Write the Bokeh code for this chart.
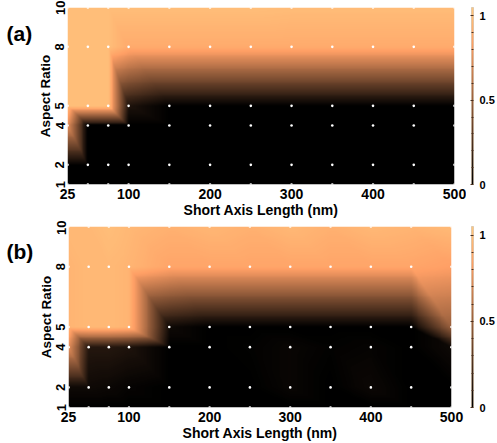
import numpy as np
from bokeh.plotting import figure
from bokeh.models import LinearColorMapper, FixedTicker
from bokeh.layouts import column, row
from bokeh.embed import file_html
from bokeh.resources import INLINE

# ---- data -------------------------------------------------------------
short_axis = [25, 50, 75, 100, 150, 200, 250, 300, 350, 400, 450, 500]
aspect = [1, 2, 4, 5, 8, 10]
x_ticks = [25, 100, 200, 300, 400, 500]
y_ticks = [1, 2, 4, 5, 8, 10]
cbar_ticks = [0, 0.5, 1]
cbar_minor = [0.1, 0.2, 0.3, 0.4, 0.6, 0.7, 0.8, 0.9]
tags = ["(a)", "(b)"]

# panel (a): rows are aspect ratio 1, 2, 4, 5, 8, 10
za = [
    [0.00, 0.00, 0.00, 0.00, 0.00, 0.00, 0.00, 0.00, 0.00, 0.00, 0.00, 0.00],
    [0.00, 0.00, 0.00, 0.00, 0.00, 0.00, 0.00, 0.00, 0.00, 0.00, 0.00, 0.00],
    [0.75, 0.00, 0.00, 0.00, 0.00, 0.00, 0.00, 0.00, 0.00, 0.00, 0.00, 0.00],
    [1.00, 1.00, 1.00, 0.10, 0.00, 0.00, 0.00, 0.00, 0.00, 0.00, 0.00, 0.00],
    [1.00, 1.00, 1.00, 0.90, 0.90, 0.90, 0.90, 0.90, 0.90, 0.90, 0.90, 0.90],
    [1.00, 1.00, 1.00, 1.00, 1.00, 1.00, 1.00, 0.99, 0.99, 0.99, 0.99, 0.99],
]
# panel (b)
zb = [
    [0.00, 0.00, 0.00, 0.00, 0.00, 0.00, 0.00, 0.00, 0.00, 0.00, 0.00, 0.00],
    [0.05, 0.05, 0.04, 0.02, 0.00, 0.00, 0.00, 0.03, 0.00, 0.04, 0.00, 0.00],
    [0.75, 0.12, 0.12, 0.10, 0.00, 0.00, 0.01, 0.03, 0.01, 0.02, 0.00, 0.05],
    [0.95, 0.97, 0.97, 0.95, 0.05, 0.00, 0.00, 0.00, 0.00, 0.00, 0.00, 0.50],
    [0.95, 0.97, 0.97, 0.95, 0.87, 0.87, 0.87, 0.87, 0.87, 0.87, 0.87, 0.84],
    [0.97, 0.97, 1.00, 0.97, 0.93, 0.96, 0.93, 0.97, 0.93, 0.97, 0.95, 0.98],
]

# ---- helpers -----------------------------------------------------------
copper = []
for k in range(256):
    v = k / 255
    r, g, b = min(1.0, 1.25 * v), 0.7812 * v, 0.4975 * v
    copper.append("#%02x%02x%02x" % (round(r * 255), round(g * 255), round(b * 255)))

CMAX = 1.05


def gouraud(xg, yg, z, nx=400, ny=190):
    """Linear shading over triangles (each grid quad split along its TL-BR diagonal)."""
    xg = np.asarray(xg, float)
    yg = np.asarray(yg, float)
    z = np.asarray(z, float)
    xs = xg[0] + (np.arange(nx) + 0.5) * (xg[-1] - xg[0]) / nx
    ys = yg[0] + (np.arange(ny) + 0.5) * (yg[-1] - yg[0]) / ny
    i = np.clip(np.searchsorted(xg, xs, "right") - 1, 0, len(xg) - 2)
    j = np.clip(np.searchsorted(yg, ys, "right") - 1, 0, len(yg) - 2)
    u = ((xs - xg[i]) / (xg[i + 1] - xg[i]))[None, :]
    w = ((ys - yg[j]) / (yg[j + 1] - yg[j]))[:, None]
    I, J = np.meshgrid(i, j)
    z00, z10 = z[J, I], z[J, I + 1]
    z01, z11 = z[J + 1, I], z[J + 1, I + 1]
    lower = (u + w) <= 1
    f_low = z00 + u * (z10 - z00) + w * (z01 - z00)
    f_up = z11 + (1 - u) * (z01 - z11) + (1 - w) * (z10 - z11)
    return np.where(lower, f_low, f_up)


FONT = "Liberation Sans"


def style_axis(ax, size, label_size="13px"):
    ax.axis_line_color = None
    ax.major_tick_line_color = None
    ax.minor_tick_line_color = None
    ax.major_tick_out = 0
    ax.major_tick_in = 0
    ax.minor_tick_out = 0
    ax.minor_tick_in = 0
    ax.major_label_text_font = FONT
    ax.major_label_text_font_style = "bold"
    ax.major_label_text_color = "black"
    ax.major_label_text_font_size = size
    ax.axis_label_text_font = FONT
    ax.axis_label_text_font_style = "bold"
    ax.axis_label_text_font_size = label_size
    ax.axis_label_text_color = "black"


def panel(z, tag, height, top, bottom, left, frame_w, right, cb_left, cb_top, cb_h, tag_y):
    mapper = LinearColorMapper(palette=copper, low=0, high=CMAX)

    # tag figure "(a)" / "(b)"
    lab = figure(width=34, height=height, output_backend="svg", toolbar_location=None,
                 x_range=(0, 34), y_range=(height, 0), min_border=0)
    lab.axis.visible = False
    lab.grid.visible = False
    lab.outline_line_color = None
    lab.text(x=[6], y=[tag_y], text=[tag], text_font={"value": FONT},
             text_font_style="bold", text_font_size="21px", text_baseline="middle",
             text_align="left", text_color="black")

    # main heat map
    p = figure(width=left + frame_w + right, height=height, output_backend="svg",
               toolbar_location=None, x_range=(25, 500), y_range=(1, 10),
               min_border_left=left, min_border_right=right, min_border_top=top,
               min_border_bottom=bottom)
    p.image(image=[gouraud(short_axis, aspect, z)], x=25, y=1, dw=475, dh=9,
            color_mapper=mapper)
    gx = [x for x in short_axis for _ in aspect]
    gy = [y for _ in short_axis for y in aspect]
    p.scatter(gx, gy, size=2.6, fill_color="white", line_color=None)
    p.outline_line_color = None
    p.grid.visible = False
    p.xaxis.ticker = FixedTicker(ticks=x_ticks)
    p.yaxis.ticker = FixedTicker(ticks=y_ticks)
    style_axis(p.xaxis[0], "14px", "14px")
    style_axis(p.yaxis[0], "13px", "13.5px")
    p.xaxis.axis_label = "Short Axis Length (nm)"
    p.yaxis.axis_label = "Aspect Ratio"
    p.xaxis.major_label_standoff = 4
    p.xaxis.axis_label_standoff = 0
    p.yaxis.major_label_standoff = 3
    p.yaxis.axis_label_standoff = 0
    p.yaxis.major_label_orientation = "vertical"

    # colour bar
    cbw = 497 - 34 - (left + frame_w + right)
    c = figure(width=cbw, height=height, output_backend="svg", toolbar_location=None,
               x_range=(0, 1), y_range=(0, CMAX), y_axis_location="right",
               min_border_left=cb_left, min_border_right=cbw - cb_left - 6,
               min_border_top=cb_top, min_border_bottom=height - cb_top - cb_h)
    c.image(image=[np.linspace(0, CMAX, 256)[:, None]], x=0, y=0, dw=1, dh=CMAX,
            color_mapper=mapper)
    c.xaxis.visible = False
    c.grid.visible = False
    c.outline_line_color = "#c8b49a"
    c.outline_line_width = 0.7
    ya = c.yaxis[0]
    ya.ticker = FixedTicker(ticks=cbar_ticks, minor_ticks=cbar_minor)
    style_axis(ya, "11px")
    ya.major_tick_line_color = "#4a3020"
    ya.minor_tick_line_color = "#4a3020"
    ya.major_tick_in = 3
    ya.minor_tick_in = 2
    ya.major_label_standoff = 6
    return row(lab, p, c, spacing=0)


ra = panel(za, tags[0], 220, 7, 33, 32, 388, 12, 5, 6, 185, 32)
rb = panel(zb, tags[1], 223, 6, 36, 34, 383, 14, 6, 4, 184, 31)
layout = column(ra, rb, spacing=0)

open("out.html", "w").write(file_html(layout, INLINE))
